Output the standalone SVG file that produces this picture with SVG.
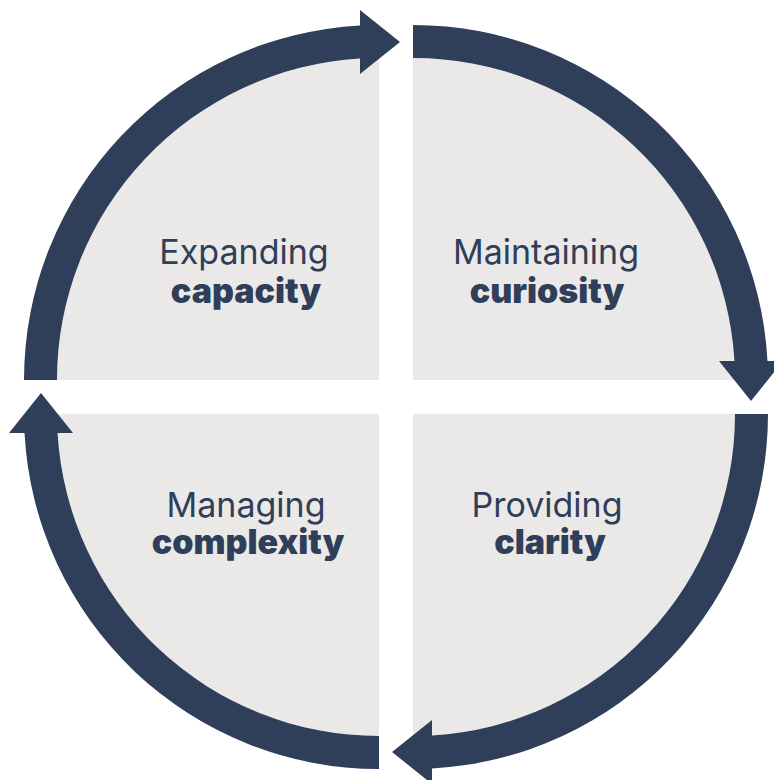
<svg xmlns="http://www.w3.org/2000/svg" xmlns:xlink="http://www.w3.org/1999/xlink" width="774" height="780" viewBox="0 0 774 780">
  <style>
    .quad { fill: #EBE9E7; }
    .arc { fill: #2F3E59; }
    .reg { font-family: Inter, "Liberation Sans", sans-serif; font-size: 34px; font-weight: 400; fill: #2F3E59; text-anchor: middle; }
    .bold { font-family: Inter, "Liberation Sans", sans-serif; font-size: 34px; font-weight: 900; fill: #2F3E59; text-anchor: middle; }
  </style>
  <defs>
    <path id="quadShape" d="M379,380 L57,380 A322,322 0 0 1 379,58 Z"/>
    <path id="arcShape" d="M24,380 A355,355 0 0 1 360,25.51 L360,10 L400,42 L360,74 L360,58.56 A322,322 0 0 0 57,380 Z"/>
  </defs>
  <rect width="774" height="780" fill="#FFFFFF"/>
  <g id="node-expanding-capacity">
    <use xlink:href="#quadShape" class="quad"/>
    <text class="reg" x="244" y="264">Expanding</text>
    <text class="bold" x="246" y="303">capacity</text>
  </g>
  <g id="node-maintaining-curiosity">
    <use xlink:href="#quadShape" class="quad" transform="rotate(90 396 397)"/>
    <text class="reg" x="546" y="264">Maintaining</text>
    <text class="bold" x="547" y="303">curiosity</text>
  </g>
  <g id="node-providing-clarity">
    <use xlink:href="#quadShape" class="quad" transform="rotate(180 396 397)"/>
    <text class="reg" x="547" y="517">Providing</text>
    <text class="bold" x="550" y="554">clarity</text>
  </g>
  <g id="node-managing-complexity">
    <use xlink:href="#quadShape" class="quad" transform="rotate(270 396 397)"/>
    <text class="reg" x="246" y="517">Managing</text>
    <text class="bold" x="248" y="554">complexity</text>
  </g>
  <g id="connectors">
    <use xlink:href="#arcShape" class="arc"/>
    <use xlink:href="#arcShape" class="arc" transform="rotate(90 396 397)"/>
    <use xlink:href="#arcShape" class="arc" transform="rotate(180 396 397)"/>
    <use xlink:href="#arcShape" class="arc" transform="rotate(270 396 397)"/>
  </g>
</svg>
